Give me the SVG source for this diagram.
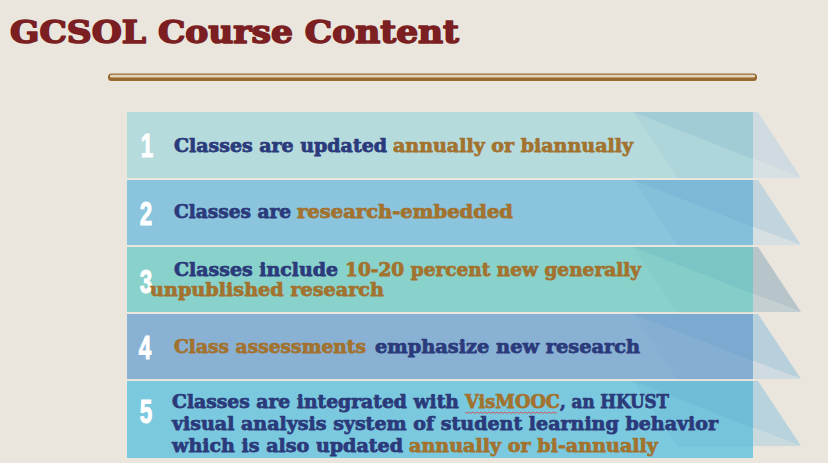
<svg xmlns="http://www.w3.org/2000/svg" width="828" height="463" viewBox="0 0 828 463">
<defs>
<style>
.t{font-family:"DejaVu Serif","Liberation Serif",serif;font-weight:bold;font-size:18px;stroke-width:0.75px;stroke-linejoin:round}
.b{fill:#2b3a7b;stroke:#2b3a7b}
.g{fill:#a2722f;stroke:#a2722f}
.n{font-family:"Liberation Sans","DejaVu Sans",sans-serif;font-weight:bold;font-size:34px;fill:#ffffff;stroke:#ffffff;stroke-width:1px}
.ovA{fill:#2f78b0;fill-opacity:0.05}
.ovB{fill:#2f78b0;fill-opacity:0.09}
</style>
<g id="shade">
<polygon class="ovA" points="633,0 753,0 753,66 678,66"/>
<polygon class="ovB" points="633,0 753,0 753,47"/>
</g>
</defs>
<rect x="0" y="0" width="828" height="463" fill="#eae6dd"/>
<text x="10" y="43" font-family="DejaVu Serif, Liberation Serif, serif" font-weight="bold" font-size="31" fill="#7b1f23" stroke="#7b1f23" stroke-width="1.6" stroke-linejoin="round" textLength="449" lengthAdjust="spacingAndGlyphs">GCSOL Course Content</text>
<g id="rule">
<rect x="108" y="73.5" width="649" height="7.5" rx="3.5" fill="#97692f"/>
<rect x="110" y="74.8" width="645" height="2.6" rx="1.2" fill="#e2d4bb"/>
</g>

<g id="row1">
<rect x="127" y="112" width="626" height="66" fill="#b5dbdd"/>
<use href="#shade" transform="translate(0,112)"/>
<polygon points="753,112 758,112 801,178 753,159" fill="#cfdbe0"/>
<polygon points="753,159 801,178 753,178" fill="#d7e0e2"/>
<text class="n" transform="translate(147,157) scale(0.66,1)" text-anchor="middle">1</text>
<text class="t b" x="174" y="152" textLength="213" lengthAdjust="spacingAndGlyphs">Classes are updated</text>
<text class="t g" x="393" y="152" textLength="240" lengthAdjust="spacingAndGlyphs">annually or biannually</text>
</g>

<g id="row2">
<rect x="127" y="180" width="626" height="65" fill="#8bc4dd"/>
<use href="#shade" transform="translate(0,180)"/>
<polygon points="753,180 758,180 801,245 753,227" fill="#c2d4de"/>
<polygon points="753,227 801,245 753,245" fill="#d6dfe1"/>
<text class="n" transform="translate(146,225) scale(0.66,1)" text-anchor="middle">2</text>
<text class="t b" x="174" y="218" textLength="117" lengthAdjust="spacingAndGlyphs">Classes are</text>
<text class="t g" x="297" y="218" textLength="216" lengthAdjust="spacingAndGlyphs">research-embedded</text>
</g>

<g id="row3">
<rect x="127" y="247" width="626" height="65" fill="#89d2cb"/>
<use href="#shade" transform="translate(0,247)"/>
<polygon points="753,247 758,247 801,312 753,294" fill="#b7c5ca"/>
<polygon points="753,294 801,312 753,312" fill="#c4cfd1"/>
<text class="n" transform="translate(146,293) scale(0.66,1)" text-anchor="middle">3</text>
<text class="t b" x="174" y="276" textLength="164" lengthAdjust="spacingAndGlyphs">Classes include</text>
<text class="t g" x="345" y="276" textLength="296" lengthAdjust="spacingAndGlyphs">10-20 percent new generally</text>
<text class="t g" x="150" y="296" textLength="234" lengthAdjust="spacingAndGlyphs">unpublished research</text>
</g>

<g id="row4">
<rect x="127" y="314" width="626" height="65" fill="#89b1d4"/>
<use href="#shade" transform="translate(0,314)"/>
<polygon points="753,314 758,314 801,379 753,361" fill="#b8cfdc"/>
<polygon points="753,361 801,379 753,379" fill="#cfdbe0"/>
<text class="n" transform="translate(145,359) scale(0.66,1)" text-anchor="middle">4</text>
<text class="t g" x="174" y="353" textLength="192" lengthAdjust="spacingAndGlyphs">Class assessments</text>
<text class="t b" x="375" y="353" textLength="265" lengthAdjust="spacingAndGlyphs">emphasize new research</text>
</g>

<g id="row5">
<rect x="127" y="381" width="626" height="77" fill="#7bc9de"/>
<use href="#shade" transform="translate(0,381)"/>
<polygon points="753,381 758,381 801,446 753,428" fill="#b8d3de"/>
<polygon points="753,428 801,446 753,446" fill="#c9dade"/>
<text class="n" transform="translate(146,423) scale(0.66,1)" text-anchor="middle">5</text>
<text class="t b" x="172" y="408" textLength="287" lengthAdjust="spacingAndGlyphs">Classes are integrated with</text>
<text class="t g" x="465" y="408" textLength="95" lengthAdjust="spacingAndGlyphs">VisMOOC</text>
<text class="t b" x="560" y="408" textLength="109" lengthAdjust="spacingAndGlyphs">, an HKUST</text>
<path d="M465,412 l2,1.5 l2,-1.5 l2,1.5 l2,-1.5 l2,1.5 l2,-1.5 l2,1.5 l2,-1.5 l2,1.5 l2,-1.5 l2,1.5 l2,-1.5 l2,1.5 l2,-1.5 l2,1.5 l2,-1.5 l2,1.5 l2,-1.5 l2,1.5 l2,-1.5 l2,1.5 l2,-1.5 l2,1.5 l2,-1.5 l2,1.5 l2,-1.5 l2,1.5 l2,-1.5 l2,1.5 l2,-1.5 l2,1.5 l2,-1.5 l2,1.5 l2,-1.5 l2,1.5 l2,-1.5 l2,1.5 l2,-1.5 l2,1.5 l2,-1.5 l2,1.5 l2,-1.5 l2,1.5 l2,-1.5 l2,1.5 l2,-1.5" fill="none" stroke="#e04040" stroke-width="0.8"/>
<text class="t b" x="172" y="430" textLength="546" lengthAdjust="spacingAndGlyphs">visual analysis system of student learning behavior</text>
<text class="t b" x="172" y="452" textLength="231" lengthAdjust="spacingAndGlyphs">which is also updated</text>
<text class="t g" x="409" y="452" textLength="249" lengthAdjust="spacingAndGlyphs">annually or bi-annually</text>
</g>
</svg>
